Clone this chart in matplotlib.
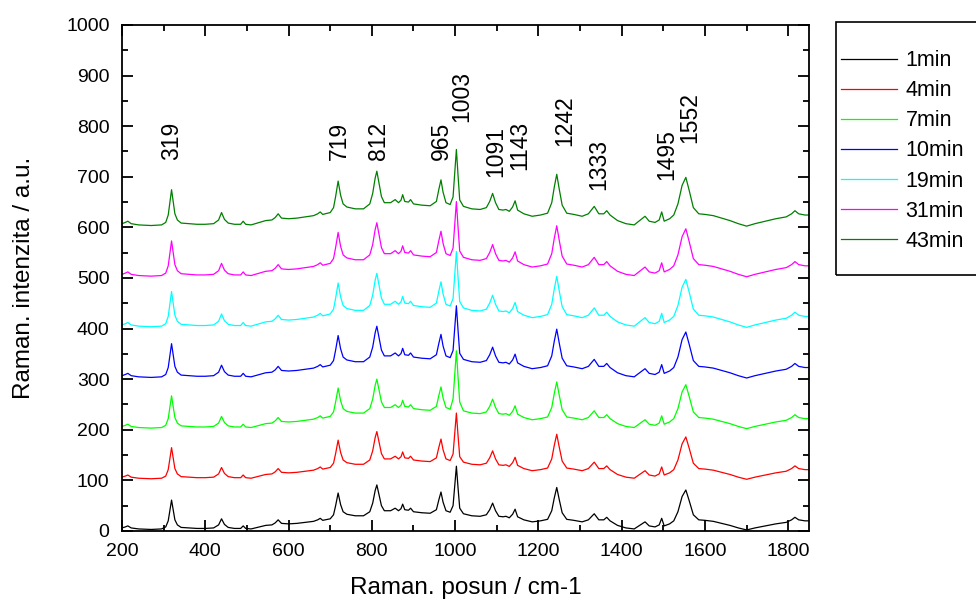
import numpy as np
import matplotlib.pyplot as plt
from matplotlib.patches import Rectangle

plt.rcParams['font.family'] = ['Liberation Sans', 'DejaVu Sans']

wavenumber = [200, 208, 214, 222, 240, 270, 295, 305, 311, 315, 319, 323, 327, 333, 342,
              360, 380, 400, 420, 432, 439, 446, 455, 470, 485, 491, 497, 510, 530, 545,
              560, 568, 575, 583, 600, 620, 640, 660, 670, 676, 682, 700, 708, 713, 719,
              725, 731, 740, 760, 780, 795, 802, 808, 812, 817, 823, 830, 845, 856, 864,
              870, 874, 879, 888, 893, 900, 920, 940, 955, 961, 966, 971, 978, 988, 995,
              999, 1003, 1007, 1011, 1020, 1040, 1060, 1075, 1083, 1090, 1097, 1105, 1115, 1122,
              1130, 1138, 1144, 1150, 1165, 1185, 1205, 1222, 1232, 1238, 1244, 1250, 1257, 1268,
              1285, 1305, 1320, 1334, 1345, 1357, 1364, 1372, 1390, 1410, 1430, 1445, 1456, 1466,
              1480, 1490, 1496, 1502, 1515, 1525, 1535, 1545, 1554, 1562, 1572, 1585, 1600, 1620,
              1640, 1660, 1680, 1700, 1720, 1745, 1770, 1795, 1808, 1816, 1825, 1840, 1850]
intensity_1min = [6, 8, 10, 6, 4, 3, 4, 8, 20, 40, 61, 42, 22, 12, 7,
                  6, 5, 5, 6, 12, 24, 13, 7, 5, 5, 10, 5, 4, 8, 11,
                  12, 16, 22, 15, 14, 15, 17, 19, 22, 25, 21, 24, 32, 50, 75,
                  52, 38, 33, 30, 30, 38, 55, 80, 91, 72, 50, 40, 40, 45, 40,
                  44, 53, 42, 41, 45, 38, 36, 35, 42, 62, 77, 57, 40, 37, 50,
                  90, 128, 85, 45, 34, 30, 29, 32, 42, 55, 40, 29, 28, 29,
                  26, 33, 43, 28, 22, 18, 20, 23, 40, 65, 86, 62, 36, 23,
                  21, 18, 22, 34, 22, 22, 27, 20, 11, 6, 4, 12, 18, 10,
                  8, 12, 25, 10, 14, 20, 38, 68, 81, 60, 32, 22, 21, 19,
                  15, 11, 6, 2, 6, 10, 14, 17, 22, 27, 22, 20, 20]

series = ['1min', '4min', '7min', '10min', '19min', '31min', '43min']
colors = ['black', 'red', '#00ff00', 'blue', 'cyan', 'magenta', 'green']
offsets = [0, 100, 200, 300, 400, 500, 600]
peak_scale = [1.0, 1.06, 1.1, 1.15, 1.2, 1.2, 1.22]
top_1003 = [128, 133, 156, 145, 152, 151, 154]

peak_labels = ['319', '719', '812', '965', '1003', '1091', '1143', '1242', '1333', '1495', '1552']
label_x = [319, 723, 816, 968, 1016, 1098, 1156, 1264, 1344, 1508, 1564]
label_y = [733, 733, 733, 733, 809, 700, 713, 761, 674, 694, 766]

wn = np.array(wavenumber)
base = np.array(intensity_1min, dtype=float)
band = (wn >= 993) & (wn <= 1013)

fig = plt.figure(figsize=(9.76, 6.02), dpi=100)
ax = fig.add_axes([0.125, 0.118, 0.704, 0.8405])

for i in range(len(series)):
    y = base * peak_scale[i]
    y[band] = base[band] * top_1003[i] / base.max()
    ax.plot(wn, y + offsets[i], color=colors[i], lw=0.9, label=series[i])

for t, x, y in zip(peak_labels, label_x, label_y):
    ax.text(x, y, t, rotation=90, ha='center', va='bottom', fontsize=16.5)

ax.set_xlim(200, 1850)
ax.set_ylim(0, 1000)
ax.set_xticks(np.arange(200, 1801, 200))
ax.set_xticks(np.arange(300, 1850, 200), minor=True)
ax.set_yticks(np.arange(0, 1001, 100))
ax.set_yticks(np.arange(50, 1000, 100), minor=True)
ax.tick_params(which='both', direction='in', top=True, right=True, width=1.3, labelsize=14)
ax.tick_params(which='major', length=8, pad=9)
ax.tick_params(which='minor', length=4)
for s in ax.spines.values():
    s.set_linewidth(1.3)

ax.set_xlabel('Raman. posun / cm-1', fontsize=17.5, labelpad=12)
ax.set_ylabel('Raman. intenzita / a.u.', fontsize=17.5, labelpad=22)

# legend frame, running off the right edge as in the original
fig.patches.append(Rectangle((836 / 976, 1 - 275 / 602), 0.2, 253 / 602,
                             transform=fig.transFigure, fill=False,
                             edgecolor='black', lw=1.2))
fig.legend(loc='center left', bbox_to_anchor=(841 / 976, 1 - 151 / 602), borderaxespad=0,
           fontsize=15.5, frameon=False, borderpad=0,
           labelspacing=0.42, handlelength=2.6, handletextpad=0.4)

fig.savefig('out.png', dpi=100)
